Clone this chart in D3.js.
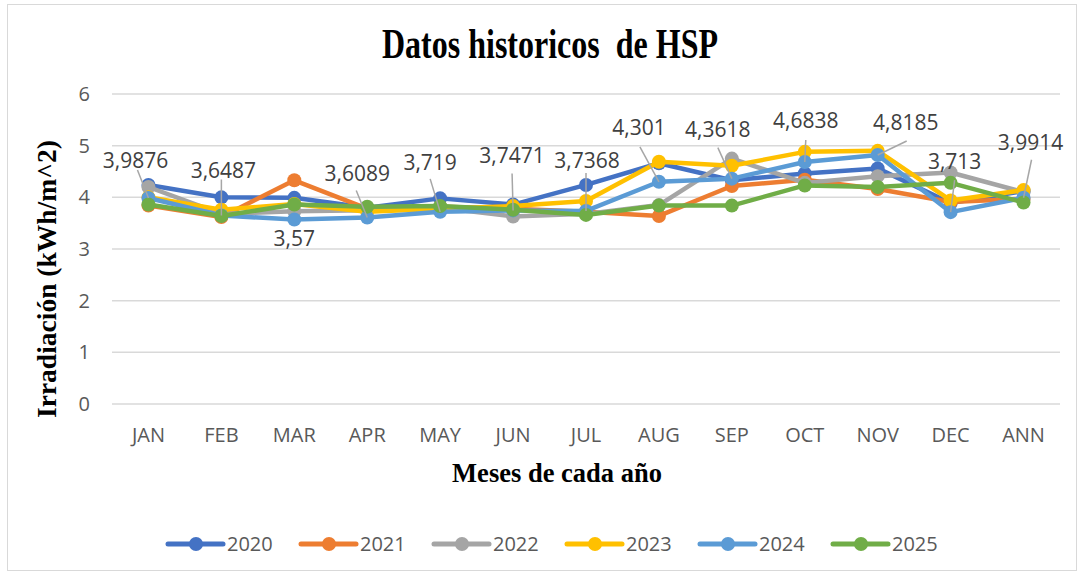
<!DOCTYPE html>
<meta charset="utf-8">
<script src="https://d3js.org/d3.v7.min.js"></script>
<style>
  body { margin: 0; background: #fff; }
  text { font-family: "Open Sans", sans-serif; }
  .serif { font-family: "Liberation Serif", "Times New Roman", serif; font-weight: bold; fill: #000; }
</style>
<div id="chart"></div>
<script>
// data
var months = ["JAN", "FEB", "MAR", "APR", "MAY", "JUN", "JUL", "AUG", "SEP", "OCT", "NOV", "DEC", "ANN"];
var years = ["2020", "2021", "2022", "2023", "2024", "2025"];
var colors = ["#4472C4", "#ED7D31", "#A5A5A5", "#FFC000", "#5B9BD5", "#70AD47"];

var v2020 = [4.24, 4.00, 3.99, 3.80, 3.98, 3.86, 4.24, 4.66, 4.33, 4.46, 4.56, 3.89, 4.12];
var v2021 = [3.84, 3.62, 4.33, 3.78, 3.82, 3.78, 3.72, 3.64, 4.22, 4.34, 4.16, 3.91, 3.97];
var v2022 = [4.20, 3.68, 3.73, 3.75, 3.80, 3.63, 3.68, 3.85, 4.75, 4.28, 4.41, 4.48, 4.10];
var v2023 = [4.00, 3.76, 3.87, 3.72, 3.78, 3.83, 3.93, 4.69, 4.61, 4.88, 4.90, 3.94, 4.14];
var v2024 = [3.9876, 3.6487, 3.57, 3.6089, 3.719, 3.7471, 3.7368, 4.301, 4.3618, 4.6838, 4.8185, 3.713, 3.9914];
var v2025 = [3.86, 3.64, 3.86, 3.82, 3.83, 3.76, 3.66, 3.84, 3.84, 4.23, 4.20, 4.28, 3.90];
var series = [v2020, v2021, v2022, v2023, v2024, v2025];

var yTicks = [0, 1, 2, 3, 4, 5, 6];

// label placement for the 2024 data labels (pixels relative to the point)
var labelDx = [-13, 2, 0, -10, -10, -1, 1, -20, -14, 1, 28, 4, 7];
var labelDy = [-30, -37, 26, -37, -42, -47, -43, -47, -42, -34, -25, -43, -48];
var leadDx = [-11, 0, null, -11, -10, -1, 0, -19, -14, 1, 29, 4, 8];
var leadDy = [-28, -36, null, -27, -33, -37, -38, -35, -31, -22, -14, -32, -38];

var W = 1083, H = 575;
var svg = d3.select("#chart").append("svg")
  .attr("width", W).attr("height", H);

// chart border
svg.append("rect")
  .attr("x", 7.5).attr("y", 4.5)
  .attr("width", 1069).attr("height", 566)
  .attr("fill", "#fff").attr("stroke", "#d9d9d9").attr("stroke-width", 1);

var x = d3.scaleBand().domain(months).range([112, 1060]);
var y = d3.scaleLinear().domain([0, 6]).range([404, 94]);
var cx = function(m) { return x(m) + x.bandwidth() / 2; };

// gridlines + y labels
svg.append("g").selectAll("line").data(yTicks).enter().append("line")
  .attr("x1", 112).attr("x2", 1060)
  .attr("y1", function(d) { return y(d); })
  .attr("y2", function(d) { return y(d); })
  .attr("stroke", "#d9d9d9").attr("stroke-width", 1.5);

svg.append("g").selectAll("text").data(yTicks).enter().append("text")
  .attr("x", 90).attr("y", function(d) { return y(d); })
  .attr("dy", "0.35em")
  .attr("text-anchor", "end")
  .style("font-size", "20px").style("fill", "#595959")
  .text(function(d) { return d; });

// x labels
svg.append("g").selectAll("text").data(months).enter().append("text")
  .attr("x", cx).attr("y", 442)
  .attr("text-anchor", "middle")
  .style("font-size", "20px").style("fill", "#595959")
  .text(function(d) { return d; });

// titles
svg.append("text").attr("class", "serif")
  .attr("transform", "translate(550,58) scale(1,1.3)")
  .attr("text-anchor", "middle")
  .style("font-size", "32px").style("white-space", "pre")
  .text("Datos historicos  de HSP");

svg.append("text").attr("class", "serif")
  .attr("x", 557).attr("y", 482)
  .attr("text-anchor", "middle")
  .style("font-size", "26.5px")
  .text("Meses de cada año");

svg.append("text").attr("class", "serif")
  .attr("transform", "translate(56,279) rotate(-90)")
  .attr("text-anchor", "middle")
  .style("font-size", "27.5px")
  .text("Irradiación (kWh/m^2)");

// lines
var line = d3.line()
  .x(function(d, i) { return cx(months[i]); })
  .y(function(d) { return y(d); });

series.forEach(function(vals, s) {
  var g = svg.append("g");
  g.append("path").datum(vals)
    .attr("d", line)
    .attr("fill", "none")
    .attr("stroke", colors[s]).attr("stroke-width", 4.5)
    .attr("stroke-linejoin", "round");
  g.selectAll("circle").data(vals).enter().append("circle")
    .attr("cx", function(d, i) { return cx(months[i]); })
    .attr("cy", function(d) { return y(d); })
    .attr("r", 7)
    .attr("fill", colors[s]);
});

// data labels for 2024 with leader lines
var lab = svg.append("g");
v2024.forEach(function(v, i) {
  var px = cx(months[i]), py = y(v);
  if (leadDx[i] !== null) {
    lab.append("line")
      .attr("x1", px + leadDx[i]).attr("y1", py + leadDy[i])
      .attr("x2", px).attr("y2", py)
      .attr("stroke", "#a6a6a6").attr("stroke-width", 1.5);
  }
  lab.append("text")
    .attr("x", px + labelDx[i]).attr("y", py + labelDy[i])
    .attr("text-anchor", "middle")
    .style("font-size", "21px").style("fill", "#404040")
    .text(String(v).replace(".", ","));
});

// legend
var leg = svg.append("g");
years.forEach(function(yr, i) {
  var lx = 227 + i * 133, ly = 544;
  leg.append("line")
    .attr("x1", lx - 59).attr("x2", lx - 4)
    .attr("y1", ly).attr("y2", ly)
    .attr("stroke", colors[i]).attr("stroke-width", 5)
    .attr("stroke-linecap", "round");
  leg.append("circle")
    .attr("cx", lx - 31).attr("cy", ly).attr("r", 7)
    .attr("fill", colors[i]);
  leg.append("text")
    .attr("x", lx).attr("y", ly).attr("dy", "0.35em")
    .style("font-size", "20px").style("fill", "#595959")
    .text(yr);
});
</script>
